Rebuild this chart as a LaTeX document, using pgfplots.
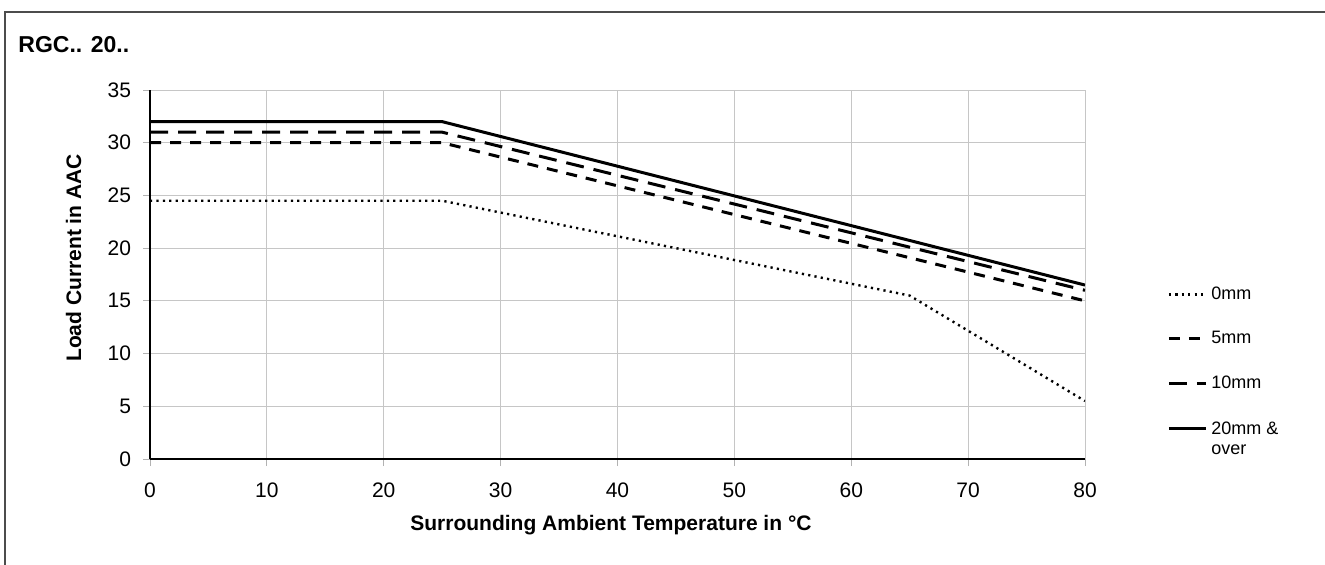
\documentclass[border=0pt]{standalone}
\usepackage{fontspec}
\setmainfont{Liberation Sans}
\usepackage{pgfplots}
\pgfplotsset{compat=1.18}

% 1 px of the reference = 0.5pt; axis origin at pixel (150,459)
\begin{document}
\begin{tikzpicture}
\useasboundingbox (-75pt,-52.5pt) rectangle (587.5pt,229.5pt);
\draw[line width=1pt, black!70] (-72.5pt,-60pt) -- (-72.5pt,223.5pt) -- (600pt,223.5pt);
\node[anchor=west, inner sep=0pt, font=\bfseries\fontsize{11.5}{14}\selectfont] at (-66pt,207pt) {RGC.. 20..};

\begin{axis}[
    at={(0pt,0pt)}, anchor=south west,
    scale only axis, width=467.5pt, height=184.5pt,
    xmin=0, xmax=80, ymin=0, ymax=35,
    xtick={0,10,...,80}, ytick={0,5,...,35},
    axis x line*=bottom, axis y line*=left,
    axis line style={line width=1pt, black, -},
    grid=major,
    major grid style={line width=0.5pt, gray!45},
    tick align=outside, major tick length=3.5pt,
    tick style={gray!60, line width=0.5pt},
    ticklabel style={font=\fontsize{10.5}{12}\selectfont},
    xticklabel style={yshift=-5pt},
    yticklabel style={xshift=-2.5pt},
    /pgf/number format/assume math mode=true,
    xlabel={Surrounding Ambient Temperature in °C},
    ylabel={Load Current in AAC},
    label style={font=\bfseries\fontsize{10.5}{12}\selectfont},
    xlabel style={at={(axis description cs:0.493,-0.179)}, anchor=center},
    ylabel style={at={(axis description cs:-0.0818,0.545)}, anchor=center},
    legend style={at={(1.0813,0.49)}, anchor=north west, draw=none, fill=none,
        font=\fontsize{9}{10}\selectfont, row sep=10.5pt},
    legend cell align=left,
    legend image code/.code={\draw[#1] (0pt,0pt) -- (18.5pt,0pt);},
]

\addplot[black, line width=1.2pt, dash pattern=on 1.1pt off 2.1pt] coordinates {
    (0,24.5) (25,24.5) (65,15.5) (80,5.5)
};
\addlegendentry{0mm}

\addplot[black, line width=1.5pt, dash pattern=on 5.5pt off 4.5pt] coordinates {
    (0,30) (25,30) (80,15)
};
\addlegendentry{5mm}

\addplot[black, line width=1.5pt, dash pattern=on 9pt off 5pt] coordinates {
    (0,31) (25,31) (80,16)
};
\addlegendentry{10mm}

\addplot[black, line width=1.5pt] coordinates {
    (0,32) (25,32) (80,16.5)
};
\addlegendentry{\raisebox{0pt}[\height][0pt]{\begin{tabular}[t]{@{}l@{}}20mm \&\\over\end{tabular}}}

\end{axis}
\end{tikzpicture}
\end{document}
